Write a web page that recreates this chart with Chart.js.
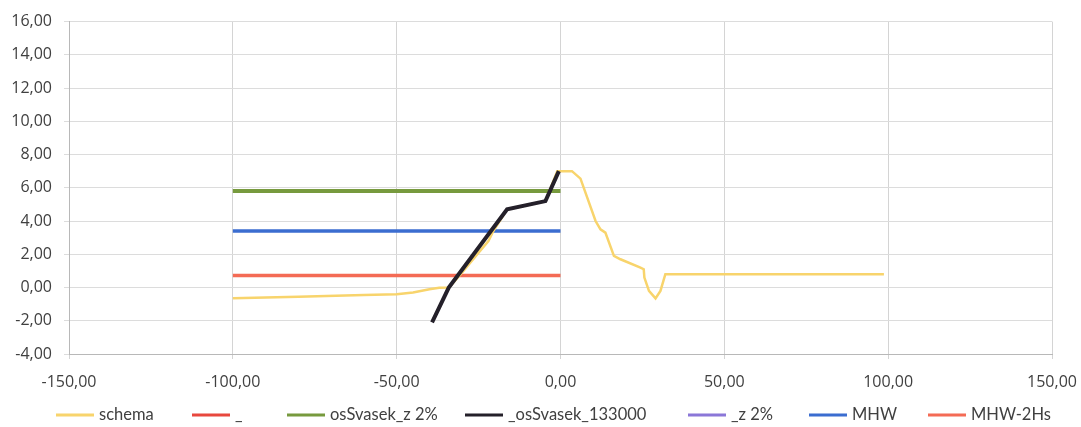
<!DOCTYPE html>
<html>
<head>
<meta charset="utf-8">
<script src="https://cdn.jsdelivr.net/npm/chart.js@4"></script>
<style>
  html, body { margin: 0; padding: 0; background: #fff; }
  #wrap { width: 1081px; height: 427px; }
</style>
</head>
<body>
<div id="wrap"><canvas id="profileChart"></canvas></div>
<script>
// profiel (x in m, z in m)
const schemaX = [-100, -80, -60, -50, -45, -40, -37, -34, -30, -25, -22, -20.5, -16.3, -4.6, -1, 0, 3.5, 6.1, 10.7, 12.2, 13.7, 16.3, 18.3, 24.4, 25.4, 25.6, 27, 29, 30.5, 32, 98.7];
const schemaY = [-0.65, -0.55, -0.45, -0.4, -0.3, -0.1, -0.02, 0.0, 0.9, 2.1, 2.8, 3.4, 4.7, 5.2, 7.0, 7.0, 7.0, 6.55, 4.0, 3.5, 3.3, 1.9, 1.7, 1.2, 1.1, 0.6, -0.2, -0.65, -0.2, 0.8, 0.8];

const svasekX = [-39.2, -34.1, -16.3, -4.6, -0.5];
const svasekY = [-2.1, 0.0, 4.7, 5.2, 7.0];

const levelX = [-100, 0];
const svasekZ2 = [5.8, 5.8];
const mhw = [3.4, 3.4];
const mhw2hs = [0.73, 0.73];

const xTicks = [-150, -100, -50, 0, 50, 100, 150];
const yTicks = [-4, -2, 0, 2, 4, 6, 8, 10, 12, 14, 16];

// plaats van de legenda-items (x van het lijntje)
const legendLeft = [56, 192, 287, 465, 688, 809, 928];

// helper om x/y lijsten om te zetten naar punten
function pts(xs, ys) {
    return xs.map((x, i) => ({ x: x, y: ys[i] }));
}

function line(label, data, color, width, order) {
    return {
        label: label,
        data: data,
        borderColor: color,
        backgroundColor: color,
        borderWidth: width,
        showLine: true,
        pointRadius: 0,
        tension: 0,
        order: order
    };
}

const fmt = v => v.toFixed(2).replace('.', ',');

// legenda zoals in Excel: lijntje + tekst op vaste plekken onderaan
const bottomLegend = {
    id: 'bottomLegend',
    afterDraw(chart) {
        const ctx = chart.ctx;
        const y = 415;
        ctx.save();
        ctx.font = '16.5px Lato';
        ctx.textBaseline = 'middle';
        chart.data.datasets.forEach((ds, i) => {
            const x = legendLeft[i];
            ctx.fillStyle = ds.borderColor;
            ctx.fillRect(x, y - 1.5, 38, 3);
            ctx.fillStyle = '#404040';
            ctx.fillText(ds.label, x + 43, y);
        });
        ctx.restore();
    }
};

const config = {
    type: 'scatter',
    data: {
        datasets: [
            line('schema', pts(schemaX, schemaY), '#f8d46c', 2.5, 1),
            line('_', [], '#e8483e', 3.5, 6),
            line('osSvasek_z 2%', pts(levelX, svasekZ2), '#779a3e', 4, 5),
            line('_osSvasek_133000', pts(svasekX, svasekY), '#24202a', 4, 0),
            line('_z 2%', [], '#8b77d8', 3, 7),
            line('MHW', pts(levelX, mhw), '#3b6dd0', 3.5, 4),
            line('MHW-2Hs', pts(levelX, mhw2hs), '#f46b55', 3.5, 3)
        ]
    },
    options: {
        responsive: true,
        maintainAspectRatio: false,
        animation: false,
        layout: { padding: { left: 0, right: 29, top: 8, bottom: 0 } },
        plugins: {
            tooltip: { enabled: false },
            legend: { display: false }
        },
        scales: {
            x: {
                type: 'linear',
                min: -150,
                max: 150,
                afterBuildTicks: s => { s.ticks = xTicks.map(v => ({ value: v })); },
                afterFit: s => { s.height = 73; s.paddingRight = 0; s.paddingLeft = 0; },
                ticks: {
                    color: '#404040',
                    font: { family: 'Open Sans', size: 16 },
                    maxRotation: 0,
                    padding: 14,
                    callback: fmt
                },
                grid: { color: '#d4d4d4', tickLength: 5 },
                border: { color: '#b8b8b8' }
            },
            y: {
                type: 'linear',
                min: -4,
                max: 16,
                afterBuildTicks: s => { s.ticks = yTicks.map(v => ({ value: v })); },
                afterFit: s => { s.width = 69; },
                ticks: {
                    color: '#404040',
                    font: { family: 'Open Sans', size: 16 },
                    padding: 12,
                    callback: fmt
                },
                grid: { color: '#dcdcdc', tickLength: 5 },
                border: { color: '#b8b8b8' }
            }
        }
    },
    plugins: [bottomLegend]
};

const profileChart = new Chart(document.getElementById('profileChart'), config);
</script>
</body>
</html>
